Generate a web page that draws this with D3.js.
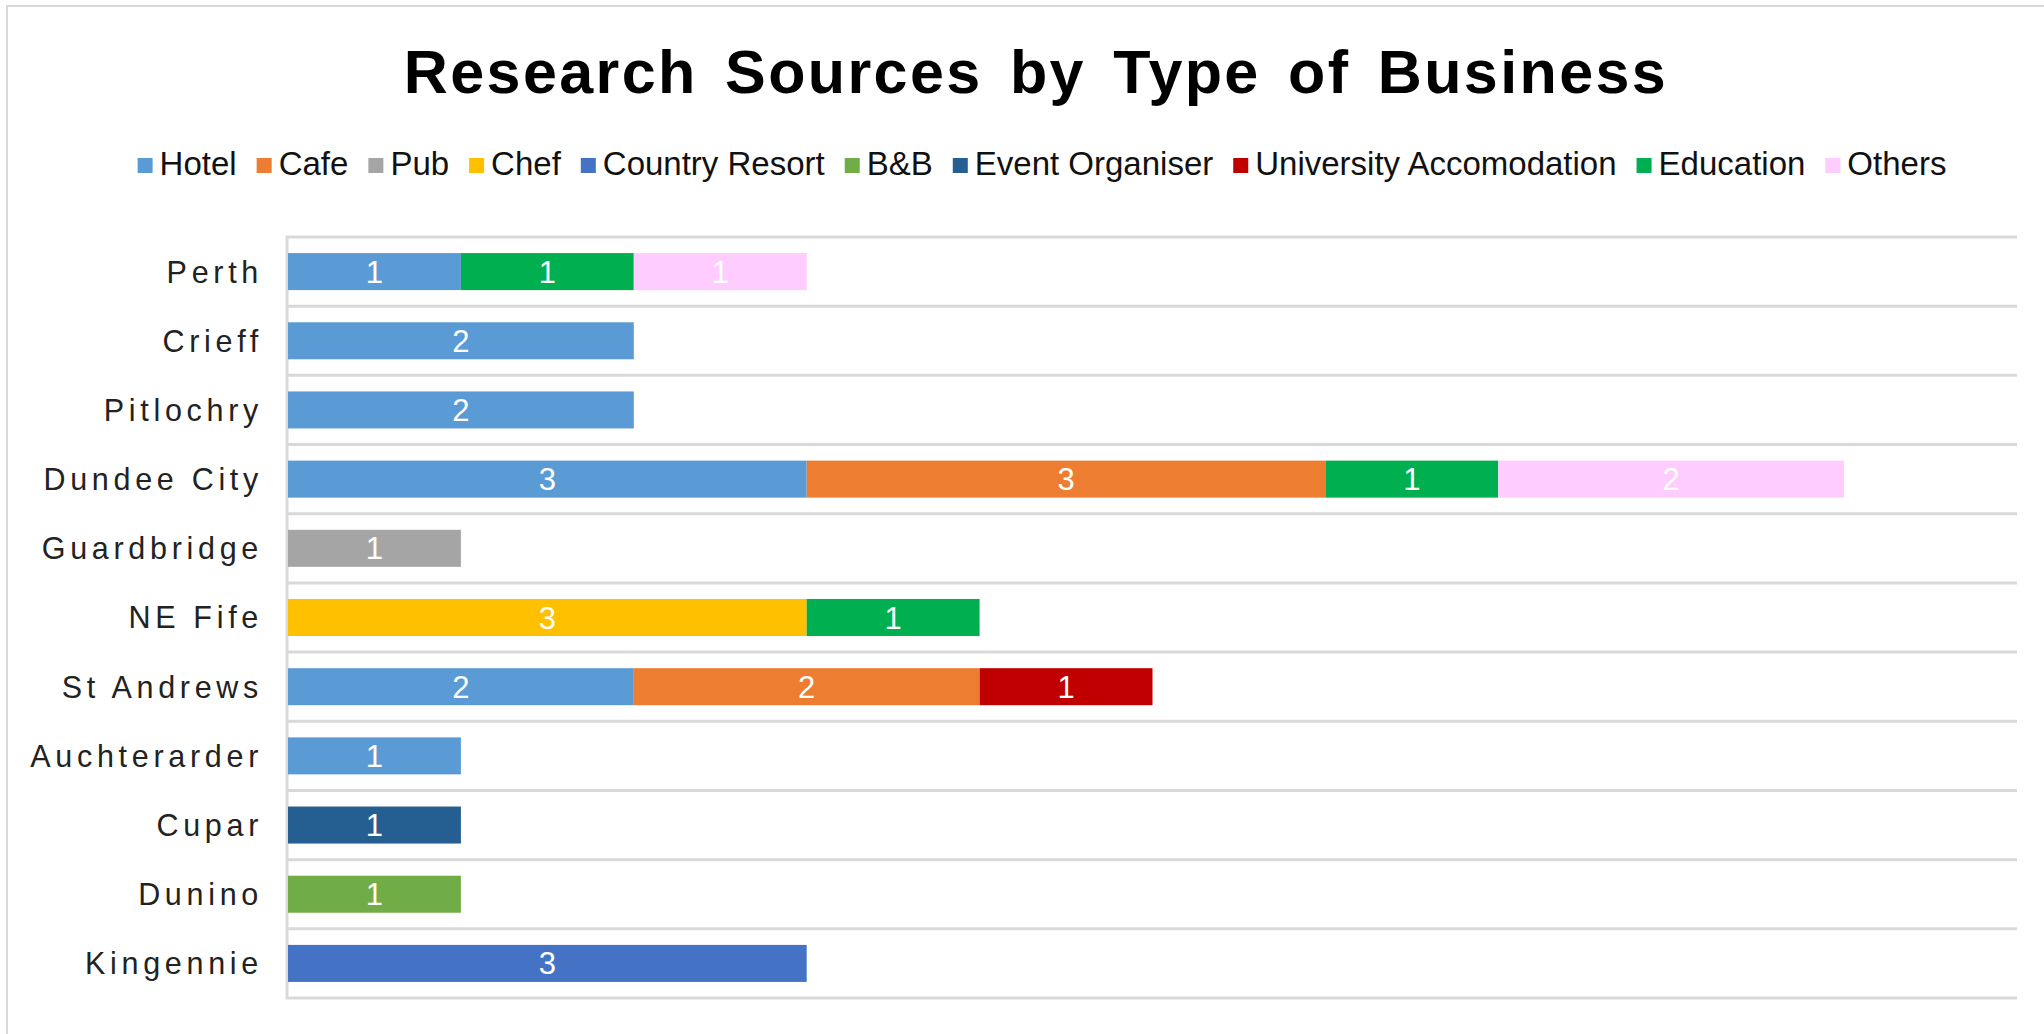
<!DOCTYPE html>
<html>
<head>
<meta charset="utf-8">
<script src="https://cdn.jsdelivr.net/npm/d3@7"></script>
<style>
  html, body { margin: 0; padding: 0; background: #fff; }
  svg { display: block; }
</style>
</head>
<body>
<svg id="chart" width="2044" height="1034"></svg>
<script>
// ---- data ----
const categories = ["Perth", "Crieff", "Pitlochry", "Dundee City", "Guardbridge", "NE Fife",
  "St Andrews", "Auchterarder", "Cupar", "Dunino", "Kingennie"];
const seriesNames = ["Hotel", "Cafe", "Pub", "Chef", "Country Resort", "B&B",
  "Event Organiser", "University Accomodation", "Education", "Others"];
const hotel          = [1, 2, 2, 3, 0, 0, 2, 1, 0, 0, 0];
const cafe           = [0, 0, 0, 3, 0, 0, 2, 0, 0, 0, 0];
const pub            = [0, 0, 0, 0, 1, 0, 0, 0, 0, 0, 0];
const chef           = [0, 0, 0, 0, 0, 3, 0, 0, 0, 0, 0];
const countryResort  = [0, 0, 0, 0, 0, 0, 0, 0, 0, 0, 3];
const bnb            = [0, 0, 0, 0, 0, 0, 0, 0, 0, 1, 0];
const eventOrganiser = [0, 0, 0, 0, 0, 0, 0, 0, 1, 0, 0];
const universityAcc  = [0, 0, 0, 0, 0, 0, 1, 0, 0, 0, 0];
const education      = [1, 0, 0, 1, 0, 1, 0, 0, 0, 0, 0];
const others         = [1, 0, 0, 2, 0, 0, 0, 0, 0, 0, 0];
const xTicks = [0, 1, 2, 3, 4, 5, 6, 7, 8, 9, 10];
const colors = ["#5B9BD5", "#ED7D31", "#A5A5A5", "#FFC000", "#4472C4", "#70AD47",
  "#255E91", "#C00000", "#00B050", "#FFCCFF"];

const seriesValues = [hotel, cafe, pub, chef, countryResort, bnb, eventOrganiser, universityAcc, education, others];
const rows = categories.map((c, i) => {
  const r = { category: c };
  seriesNames.forEach((s, j) => r[s] = seriesValues[j][i]);
  return r;
});

// ---- layout ----
const svg = d3.select("#chart");
const plot = { left: 288, right: 2017, top: 237, bottom: 998 };

// outer frame
svg.append("rect").attr("x", 7).attr("y", 6).attr("width", 2100).attr("height", 1100)
  .attr("fill", "none").attr("stroke", "#d9d9d9").attr("stroke-width", 2);

const x = d3.scaleLinear().domain([0, 10]).range([plot.left, plot.right]);
const barFrac = 0.535;
const y = d3.scaleBand().domain(categories).range([plot.top, plot.bottom])
  .paddingInner(1 - barFrac).paddingOuter((1 - barFrac) / 2);
const step = y.step();

// gridlines at category boundaries
const bounds = d3.range(categories.length + 1).map(i => plot.top + i * step);
svg.append("g").selectAll("line").data(bounds).join("line")
  .attr("x1", plot.left).attr("x2", plot.right)
  .attr("y1", d => d).attr("y2", d => d)
  .attr("stroke", "#d9d9d9").attr("stroke-width", 3);

// left axis line
svg.append("line").attr("x1", plot.left - 1).attr("x2", plot.left - 1)
  .attr("y1", plot.top - 1.5).attr("y2", plot.bottom + 1.5)
  .attr("stroke", "#d9d9d9").attr("stroke-width", 3);

// stacked bars
const stack = d3.stack().keys(seriesNames);
const stacked = stack(rows);
const gBars = svg.append("g");
stacked.forEach((layer, j) => {
  const segs = layer.filter(d => d[1] - d[0] > 0);
  gBars.selectAll(null).data(segs).join("rect")
    .attr("x", d => x(d[0]))
    .attr("width", d => x(d[1]) - x(d[0]))
    .attr("y", d => y(d.data.category))
    .attr("height", y.bandwidth())
    .attr("fill", colors[j]);
  gBars.selectAll(null).data(segs).join("text")
    .attr("x", d => (x(d[0]) + x(d[1])) / 2)
    .attr("y", d => y(d.data.category) + y.bandwidth() / 2 + 11)
    .attr("text-anchor", "middle")
    .attr("font-family", "'Liberation Sans', Arial, sans-serif")
    .attr("font-size", 31)
    .attr("fill", "#ffffff")
    .text(d => d[1] - d[0]);
});

// category axis labels
const yAxis = d3.axisLeft(y).tickSize(0).tickPadding(0);
const gy = svg.append("g").attr("transform", `translate(${263},0)`).call(yAxis);
gy.select(".domain").remove();
gy.selectAll("text")
  .attr("font-family", "'Liberation Sans', Arial, sans-serif")
  .attr("font-size", 30.5)
  .attr("letter-spacing", 4.7)
  .attr("fill", "#222")
  .attr("dy", "0.36em");

// title
svg.append("text")
  .attr("x", 1036).attr("y", 93)
  .attr("text-anchor", "middle")
  .attr("font-family", "'Liberation Sans', Arial, sans-serif")
  .attr("font-weight", "bold")
  .attr("font-size", 61)
  .attr("letter-spacing", 2.4)
  .attr("word-spacing", 8)
  .attr("fill", "#000")
  .text("Research Sources by Type of Business");

// legend
const gLeg = svg.append("g");
const items = gLeg.selectAll("g").data(seriesNames).join("g");
items.append("rect").attr("width", 15).attr("height", 15).attr("y", -17)
  .attr("fill", (d, i) => colors[i]);
items.append("text").attr("x", 22).attr("y", 0)
  .attr("font-family", "'Liberation Sans', Arial, sans-serif")
  .attr("font-size", 33)
  .attr("fill", "#111")
  .text(d => d);
let cx = 0;
const positions = [];
items.each(function() {
  const w = d3.select(this).select("text").node().getComputedTextLength();
  positions.push(cx);
  cx += 22 + w + 20;
});
const totalW = cx - 20;
const legStart = 1042 - totalW / 2;
items.attr("transform", (d, i) => `translate(${legStart + positions[i]},175)`);
</script>
</body>
</html>
